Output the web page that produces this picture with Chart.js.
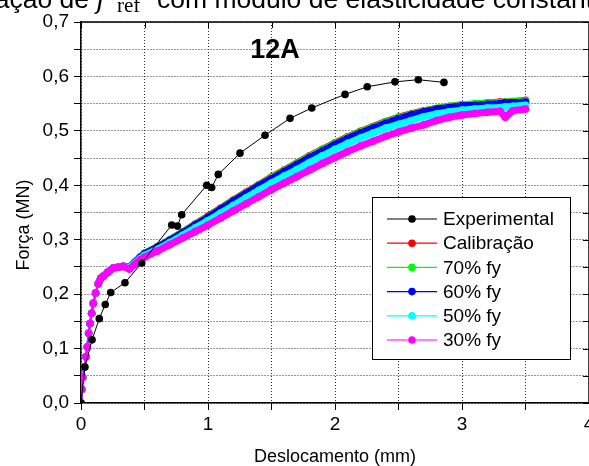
<!DOCTYPE html>
<html>
<head>
<meta charset="utf-8">
<script src="https://cdn.jsdelivr.net/npm/chart.js@4.4.1/dist/chart.umd.min.js"></script>
<style>
  html, body { margin: 0; padding: 0; background: #fff; overflow: hidden; }
  #wrap { width: 589px; height: 466px; overflow: hidden; position: relative; }
  canvas { display: block; }
</style>
</head>
<body>
<div id="wrap"><canvas id="c" width="600" height="466"></canvas></div>
<script>
// Ensaio 12A: força x deslocamento
const expX = [0, 0.031, 0.087, 0.144, 0.191, 0.234, 0.346, 0.478, 0.714, 0.759, 0.793, 0.99, 1.029, 1.081, 1.252, 1.449, 1.646, 1.817, 2.079, 2.254, 2.472, 2.656, 2.858];
const expY = [0, 0.066, 0.116, 0.155, 0.181, 0.203, 0.221, 0.257, 0.327, 0.325, 0.346, 0.400, 0.396, 0.420, 0.459, 0.492, 0.523, 0.542, 0.567, 0.581, 0.590, 0.594, 0.589];

// Deslocamentos comuns aos modelos numéricos (mm)
const simX = [0, 0.005, 0.013, 0.026, 0.039, 0.05, 0.06, 0.071, 0.084, 0.097, 0.115, 0.136, 0.155, 0.176, 0.21, 0.254, 0.30, 0.333, 0.38, 0.42, 0.465,
  0.5, 0.6, 0.7, 0.8, 0.9, 1.0, 1.1, 1.2, 1.3, 1.4, 1.5, 1.6, 1.7, 1.8, 1.9, 2.0, 2.1, 2.2, 2.3, 2.4, 2.5, 2.6, 2.7, 2.8, 2.9, 3.0, 3.1, 3.2, 3.3, 3.34, 3.4, 3.5];

const calibY = [0, 0.025, 0.047, 0.066, 0.085, 0.103, 0.128, 0.146, 0.165, 0.183, 0.202, 0.219, 0.229, 0.233, 0.240, 0.248, 0.250, 0.251, 0.250, 0.258, 0.268,
  0.275, 0.287, 0.300, 0.314, 0.329, 0.343, 0.358, 0.373, 0.387, 0.401, 0.415, 0.428, 0.441, 0.454, 0.466, 0.478, 0.489, 0.499, 0.508, 0.517, 0.525, 0.531, 0.537, 0.541, 0.545, 0.548, 0.549, 0.551, 0.553, 0.552, 0.554, 0.556];
const fy70Y = [0, 0.025, 0.047, 0.066, 0.085, 0.103, 0.128, 0.146, 0.165, 0.183, 0.202, 0.219, 0.229, 0.233, 0.240, 0.248, 0.250, 0.251, 0.250, 0.258, 0.268,
  0.275, 0.287, 0.300, 0.314, 0.328, 0.342, 0.357, 0.372, 0.386, 0.400, 0.414, 0.427, 0.440, 0.453, 0.465, 0.477, 0.488, 0.498, 0.507, 0.516, 0.524, 0.530, 0.536, 0.541, 0.545, 0.548, 0.550, 0.551, 0.552, 0.553, 0.553, 0.555];
const fy60Y = [0, 0.025, 0.047, 0.066, 0.085, 0.103, 0.128, 0.146, 0.165, 0.183, 0.202, 0.219, 0.229, 0.233, 0.240, 0.248, 0.250, 0.251, 0.250, 0.257, 0.267,
  0.274, 0.286, 0.299, 0.313, 0.327, 0.341, 0.356, 0.371, 0.385, 0.399, 0.412, 0.425, 0.438, 0.451, 0.463, 0.475, 0.486, 0.496, 0.505, 0.514, 0.522, 0.529, 0.535, 0.540, 0.543, 0.546, 0.547, 0.549, 0.550, 0.552, 0.551, 0.553];
const fy50Y = [0, 0.025, 0.047, 0.066, 0.085, 0.103, 0.128, 0.146, 0.165, 0.183, 0.202, 0.219, 0.229, 0.233, 0.240, 0.248, 0.250, 0.251, 0.249, 0.256, 0.265,
  0.271, 0.282, 0.295, 0.308, 0.322, 0.335, 0.349, 0.363, 0.377, 0.391, 0.404, 0.417, 0.429, 0.442, 0.454, 0.466, 0.477, 0.487, 0.496, 0.505, 0.512, 0.519, 0.526, 0.531, 0.535, 0.538, 0.540, 0.542, 0.543, 0.544, 0.545, 0.547];
const fy30Y = [0, 0.025, 0.047, 0.066, 0.085, 0.103, 0.128, 0.146, 0.165, 0.183, 0.202, 0.219, 0.229, 0.233, 0.240, 0.248, 0.250, 0.251, 0.246, 0.254, 0.263,
  0.268, 0.279, 0.291, 0.303, 0.315, 0.327, 0.340, 0.353, 0.366, 0.379, 0.392, 0.404, 0.416, 0.428, 0.440, 0.451, 0.462, 0.472, 0.481, 0.490, 0.498, 0.505, 0.511, 0.519, 0.525, 0.529, 0.532, 0.534, 0.536, 0.525, 0.537, 0.540];

const seriesNames = ['Experimental', 'Calibração', '70% fy', '60% fy', '50% fy', '30% fy'];
const xTickLabels = ['0', '1', '2', '3', '4'];
const yTickLabels = ['0,0', '0,1', '0,2', '0,3', '0,4', '0,5', '0,6', '0,7'];

const FONT = 'Arial, "Liberation Sans", sans-serif';

function pts(xs, ys) { return xs.map((x, i) => ({ x: x, y: ys[i] })); }

function simSet(label, ys, color, order) {
  return {
    label: label,
    data: pts(simX, ys),
    borderColor: color,
    backgroundColor: color,
    pointBackgroundColor: color,
    pointBorderWidth: 0,
    pointRadius: 3.8,
    borderWidth: 7,
    segment: { borderWidth: c => (c.p1.parsed.y < 0.22 ? 2 : 7) },
    tension: 0,
    order: order
  };
}

const datasets = [
  {
    label: seriesNames[0],
    data: pts(expX, expY),
    borderColor: '#000',
    backgroundColor: '#000',
    pointBackgroundColor: '#000',
    pointBorderWidth: 0,
    pointRadius: 3.8,
    borderWidth: 1,
    tension: 0,
    order: 0
  },
  simSet(seriesNames[1], calibY, '#ff0000', 6),
  simSet(seriesNames[2], fy70Y, '#00ff00', 5),
  simSet(seriesNames[3], fy60Y, '#0000ff', 4),
  simSet(seriesNames[4], fy50Y, '#00ffff', 3),
  simSet(seriesNames[5], fy30Y, '#ff00ff', 2)
];

// Moldura, rótulos e legenda desenhados sobre o gráfico
const decor = {
  id: 'decor',
  afterDraw(chart) {
    const { ctx, chartArea: a, scales } = chart;
    const xs = scales.x, ys = scales.y;
    ctx.save();

    // bordas superior e direita com marcas internas
    ctx.strokeStyle = '#000';
    ctx.lineWidth = 1.5;
    ctx.beginPath();
    ctx.moveTo(a.left, a.top);
    ctx.lineTo(a.right, a.top);
    ctx.lineTo(a.right, a.bottom);
    ctx.stroke();
    ctx.lineWidth = 1;
    ctx.beginPath();
    xs.ticks.forEach(t => {
      const px = Math.round(xs.getPixelForValue(t.value)) + 0.5;
      ctx.moveTo(px, a.top);
      ctx.lineTo(px, a.top + 6);
    });
    ys.ticks.forEach(t => {
      const py = Math.round(ys.getPixelForValue(t.value)) + 0.5;
      ctx.moveTo(a.right, py);
      ctx.lineTo(a.right - 6, py);
    });
    ctx.stroke();

    // identificação do ensaio
    ctx.fillStyle = '#000';
    ctx.font = 'bold 27px ' + FONT;
    ctx.textAlign = 'center';
    ctx.textBaseline = 'alphabetic';
    ctx.fillText('12A', 275, 58);

    // títulos dos eixos
    ctx.font = '18px ' + FONT;
    ctx.fillText('Deslocamento (mm)', 335, 462);
    ctx.save();
    ctx.translate(29, 225);
    ctx.rotate(-Math.PI / 2);
    ctx.fillText('Força (MN)', 0, 0);
    ctx.restore();

    // legenda
    const bx = 372.5, by = 197.5, bw = 198, bh = 162;
    ctx.fillStyle = '#fff';
    ctx.fillRect(bx, by, bw, bh);
    ctx.strokeStyle = '#000';
    ctx.lineWidth = 1;
    ctx.strokeRect(bx, by, bw, bh);
    ctx.font = '19px ' + FONT;
    ctx.textAlign = 'left';
    ctx.textBaseline = 'middle';
    chart.data.datasets.forEach((ds, i) => {
      const cy = 219 + i * 24.2;
      ctx.strokeStyle = ds.borderColor;
      ctx.lineWidth = 1.2;
      ctx.beginPath();
      ctx.moveTo(387, cy);
      ctx.lineTo(437, cy);
      ctx.stroke();
      ctx.fillStyle = ds.borderColor;
      ctx.beginPath();
      ctx.arc(412, cy, 3.8, 0, Math.PI * 2);
      ctx.fill();
      ctx.fillStyle = '#000';
      ctx.fillText(ds.label, 443, cy + 1);
    });

    // cabeçalho
    ctx.textBaseline = 'alphabetic';
    ctx.font = '26.5px ' + FONT;
    ctx.textAlign = 'right';
    ctx.fillText('Determinação de', 89, 8);
    ctx.textAlign = 'left';
    ctx.font = 'italic 27px "DejaVu Serif", "Liberation Serif", serif';
    ctx.fillText('f', 96, 8);
    ctx.font = '21px "Liberation Serif", "DejaVu Serif", serif';
    ctx.fillText('ref', 117, 12);
    ctx.font = '26.5px ' + FONT;
    ctx.fillText('com módulo de elasticidade constante', 157, 8);

    ctx.restore();
  }
};

new Chart(document.getElementById('c'), {
  type: 'line',
  data: { datasets: datasets },
  options: {
    responsive: false,
    animation: false,
    layout: { padding: { top: 22, right: 11, left: 0, bottom: 0 } },
    plugins: { legend: { display: false }, tooltip: { enabled: false } },
    elements: { line: { borderJoinStyle: 'round', borderCapStyle: 'round' } },
    scales: {
      x: {
        type: 'linear',
        min: 0,
        max: 4,
        afterFit: s => { s.height = 63; },
        ticks: {
          stepSize: 0.5,
          autoSkip: false,
          maxRotation: 0,
          padding: 3,
          color: '#000',
          font: { family: FONT, size: 19 },
          callback: v => (Math.abs(v - Math.round(v)) < 1e-6 ? xTickLabels[Math.round(v)] : '')
        },
        grid: { color: '#333', lineWidth: 1, tickLength: 7, tickColor: '#000', tickWidth: 1 },
        border: { display: true, color: '#000', width: 1.5, dash: [1, 2] }
      },
      y: {
        type: 'linear',
        min: 0,
        max: 0.7,
        afterFit: s => { s.width = 81; },
        ticks: {
          stepSize: 0.05,
          autoSkip: false,
          padding: 5,
          color: '#000',
          font: { family: FONT, size: 19 },
          callback: v => {
            const k = Math.round(v * 100);
            return k % 10 === 0 ? yTickLabels[k / 10] : '';
          }
        },
        grid: { color: '#333', lineWidth: 1, tickLength: 7, tickColor: '#000', tickWidth: 1 },
        border: { display: true, color: '#000', width: 1.5, dash: [1, 2] }
      }
    }
  },
  plugins: [decor]
});
</script>
</body>
</html>
